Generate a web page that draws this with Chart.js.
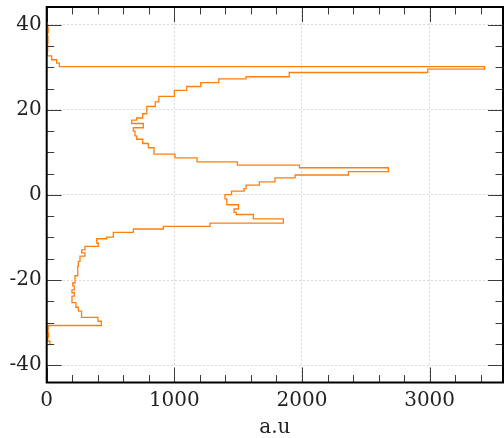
<!DOCTYPE html>
<html>
<head>
<meta charset="utf-8">
<script src="https://cdn.jsdelivr.net/npm/chart.js@4/dist/chart.umd.min.js"></script>
<style>
  html, body { margin: 0; padding: 0; background: #ffffff; }
  #wrap { width: 504px; height: 438px; }
</style>
</head>
<body>
<div id="wrap"><canvas id="c" width="504" height="438"></canvas></div>
<script>
// Position (upper edge of each step, top to bottom)
const position = [40.0, 39.2, 38.1, 37.4, 35.7, 35.2, 33.8, 32.7, 31.8, 31.0,
  30.2, 29.6, 28.8, 27.8, 27.3, 26.4, 25.5, 24.6, 23.2, 21.9,
  20.8, 19.1, 18.1, 17.6, 16.8, 15.8, 15.0, 13.9, 13.1, 12.1,
  11.1, 9.6, 8.7, 7.8, 7.0, 6.4, 5.5, 4.7, 4.0, 3.1,
  2.3, 1.5, 0.9, 0.1, -0.9, -2.3, -3.3, -4.1, -4.6, -5.6,
  -6.6, -7.4, -8.0, -8.8, -9.9, -10.3, -11.3, -12.1, -12.9, -13.6,
  -14.4, -15.6, -16.8, -19.0, -20.7, -21.4, -22.3, -23.0, -23.8, -25.3,
  -26.4, -27.3, -28.8, -29.7, -30.7, -31.6, -32.5, -33.4, -34.4, -35.2];
// Intensity (a.u) of each step
const intensity = [10, 12, 0, 10, 0, 8, 5, 39, 78, 99,
  3430, 2985, 1900, 1562, 1348, 1207, 1097, 1000, 879, 850,
  784, 752, 705, 666, 757, 679, 692, 705, 752, 796,
  841, 1005, 1178, 1494, 1980, 2677, 2364, 1946, 1789, 1666,
  1562, 1546, 1448, 1397, 1411, 1502, 1468, 1484, 1619, 1854,
  1280, 914, 679, 522, 470, 392, 404, 300, 274, 300,
  261, 248, 243, 222, 204, 216, 198, 216, 198, 229,
  248, 273, 402, 428, 12, 10, 14, 8, 25, 0];

const xTicks = [0, 1000, 2000, 3000];
const yTicks = [-40, -20, 0, 20, 40];
const xMinorStep = 200;
const yMinorStep = 5;
const xTitle = 'a.u';

const points = position.map((p, i) => ({ x: intensity[i], y: p }));

const FONT = { family: "'DejaVu Serif', serif", size: 20 };
const TEXT = '#222222';

const frameTicks = {
  id: 'frameTicks',
  afterDraw(chart) {
    const { ctx, chartArea: a, scales: { x, y } } = chart;
    ctx.save();
    ctx.strokeStyle = '#3c3c3c';
    ctx.lineWidth = 1;
    const seg = (x1, y1, x2, y2) => { ctx.beginPath(); ctx.moveTo(x1, y1); ctx.lineTo(x2, y2); ctx.stroke(); };
    for (let v = 0; v <= x.max + 1e-6; v += xMinorStep) {
      const px = Math.round(x.getPixelForValue(v)) + 0.5;
      const L = (v % 1000 === 0) ? 15 : 7.5;
      seg(px, a.bottom, px, a.bottom - L);
      seg(px, a.top, px, a.top + L);
    }
    const startY = Math.ceil(y.min / yMinorStep) * yMinorStep;
    for (let v = startY; v <= y.max + 1e-6; v += yMinorStep) {
      const py = Math.round(y.getPixelForValue(v)) + 0.5;
      const L = (v % 20 === 0) ? 15 : 7.5;
      seg(a.left, py, a.left + L, py);
      seg(a.right, py, a.right - L, py);
    }
    ctx.strokeStyle = '#000000';
    ctx.lineWidth = 2;
    ctx.strokeRect(a.left, a.top, a.right - a.left, a.bottom - a.top);
    ctx.restore();
  }
};

new Chart(document.getElementById('c'), {
  type: 'line',
  data: {
    datasets: [{
      data: points,
      stepped: 'after',
      borderColor: '#ff7f0e',
      borderWidth: 1.3,
      pointRadius: 0,
      fill: false,
      tension: 0
    }]
  },
  options: {
    responsive: false,
    animation: false,
    devicePixelRatio: 1,
    layout: { padding: { top: 7, right: 1, left: 0, bottom: 0 } },
    plugins: { legend: { display: false }, tooltip: { enabled: false } },
    scales: {
      x: {
        type: 'linear',
        position: 'bottom',
        min: 0,
        max: 3575,
        afterBuildTicks: s => { s.ticks = xTicks.map(v => ({ value: v })); },
        afterFit: s => { s.height = 55.5; s.paddingLeft = 0; s.paddingRight = 0; },
        grid: { color: 'rgba(0,0,0,0.18)', lineWidth: 0.8, drawTicks: false },
        border: { display: false, dash: [2, 2] },
        ticks: { font: FONT, color: TEXT, padding: 6, maxRotation: 0, callback: v => String(v) },
        title: { display: true, text: xTitle, font: FONT, color: TEXT, padding: { top: 0, bottom: -2 } }
      },
      y: {
        type: 'linear',
        position: 'left',
        min: -44.1,
        max: 44.2,
        afterBuildTicks: s => { s.ticks = yTicks.map(v => ({ value: v })); },
        afterFit: s => { s.width = 46.7; s.paddingTop = 0; s.paddingBottom = 0; },
        grid: { color: 'rgba(0,0,0,0.18)', lineWidth: 0.8, drawTicks: false },
        border: { display: false, dash: [2, 2] },
        ticks: { font: FONT, color: TEXT, padding: 5, callback: v => String(v) }
      }
    }
  },
  plugins: [frameTicks]
});
</script>
</body>
</html>
